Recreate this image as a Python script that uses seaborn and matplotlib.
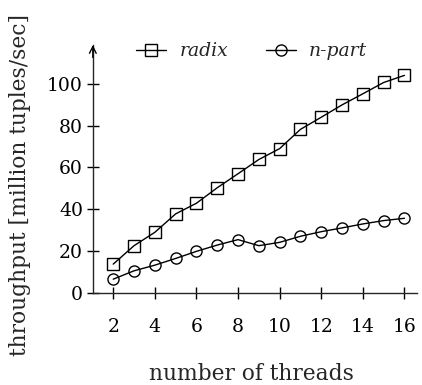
import matplotlib
matplotlib.use("Agg")
import matplotlib.pyplot as plt
import seaborn as sns
import pandas as pd

threads = list(range(2, 17))
radix = [13.8, 22.6, 29.0, 37.8, 42.9, 50.3, 57.0, 63.8, 69.0, 78.2, 84.0, 89.9, 95.2, 100.6, 104.0]
npart = [6.6, 10.6, 13.3, 16.5, 19.9, 22.9, 25.5, 22.6, 24.2, 27.1, 29.3, 31.1, 33.0, 34.6, 35.7]
series_names = ["radix", "n-part"]
xticks = [2, 4, 6, 8, 10, 12, 14, 16]
yticks = [0, 20, 40, 60, 80, 100]

df = pd.DataFrame({
    "threads": threads * 2,
    "throughput": radix + npart,
    "series": [series_names[0]] * len(threads) + [series_names[1]] * len(threads),
})

sns.set_style("ticks")
plt.rcParams["font.family"] = ["DejaVu Serif"]

fig = plt.figure(figsize=(4.22, 3.85), dpi=100)
ax = fig.add_axes([0.22, 0.239, 0.768, 0.644])

sns.lineplot(data=df, x="threads", y="throughput", hue="series", style="series",
             markers={"radix": "s", "n-part": "o"}, dashes=False,
             palette={"radix": "black", "n-part": "black"},
             markersize=8, markerfacecolor="none", markeredgecolor="black",
             markeredgewidth=1.0, linewidth=1.0, ax=ax)

for line in ax.lines:
    line.set_markerfacecolor("none")
    line.set_markeredgecolor("black")

ax.set_xlim(1.02, 16.6)
ax.set_ylim(0, 118.5)
ax.set_xticks(xticks)
ax.set_yticks(yticks)
ax.tick_params(direction="inout", length=8, width=1.0, labelsize=13.5, colors="black")
ax.tick_params(axis="x", pad=14)
ax.tick_params(axis="y", pad=3)
ax.set_xlabel("number of threads", fontsize=15.7)
ax.set_ylabel("throughput [million tuples/sec]", fontsize=15.7)
ax.xaxis.set_label_coords(0.49, -0.325)
ax.yaxis.set_label_coords(-0.225, 0.435)
ax.xaxis.label.set_verticalalignment("center")
ax.yaxis.label.set_verticalalignment("center")

sns.despine(ax=ax)
ax.spines["left"].set_linewidth(1.0)
ax.spines["bottom"].set_linewidth(1.0)
ax.annotate("", xy=(0, 1.0), xytext=(0, 0.95), xycoords="axes fraction",
            arrowprops=dict(arrowstyle="->", lw=1.0, color="black",
                            mutation_scale=12, shrinkA=0, shrinkB=0))

leg = ax.legend(loc="upper center", bbox_to_anchor=(0.49, 1.08), ncol=2, frameon=False,
                fontsize=13.5, handlelength=1.6, columnspacing=2.0, handletextpad=0.7)
for t in leg.get_texts():
    t.set_fontstyle("italic")
for h in leg.legend_handles:
    h.set_markerfacecolor("none")
    h.set_markeredgecolor("black")
    h.set_color("black")

fig.savefig("out.png", dpi=100)
